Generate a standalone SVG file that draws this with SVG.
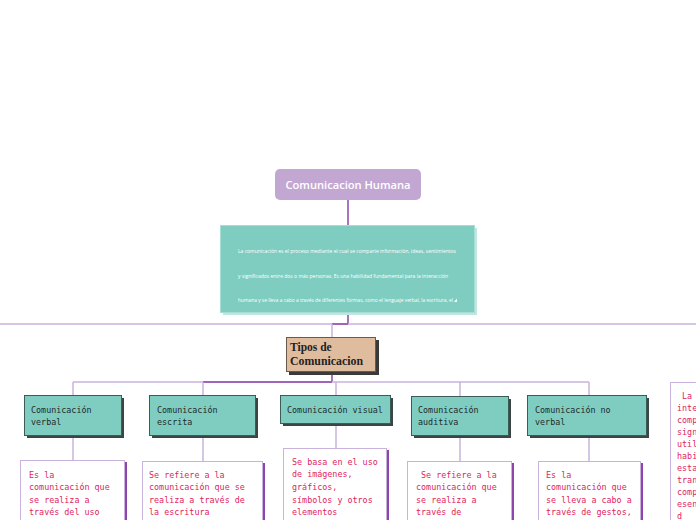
<svg xmlns="http://www.w3.org/2000/svg" width="696" height="520" viewBox="0 0 696 520">
<style>
.light{stroke:#c9b3dc;stroke-width:1.5;fill:none}
.dark{stroke:#8e44ad;stroke-width:1.5;fill:none}
.child{fill:#7fcdc1;stroke:#3d5c58;stroke-width:1}
.cshadow{fill:#3a4544}
.clabel{font-family:"DejaVu Sans Mono","Liberation Mono",monospace;font-size:8.4px;fill:#1f2a2a}
.desc{fill:#ffffff;stroke:#c9b3dc;stroke-width:1}
.dshadow{fill:#8e44ad}
.dtext{font-family:"DejaVu Sans Mono","Liberation Mono",monospace;font-size:8.4px;fill:#e0245e}
.small{font-family:"Open Sans","Noto Sans",sans-serif;font-size:4.6px;fill:#ffffff}
</style>
<rect width="696" height="520" fill="#ffffff"/>
<g id="connectors">
<line class="dark" x1="348" y1="200" x2="348" y2="226"/>
<line class="dark" x1="348" y1="313" x2="348" y2="324"/>
<line class="light" x1="0" y1="324" x2="696" y2="324"/>
<line class="dark" x1="332" y1="324" x2="348" y2="324"/>
<line class="light" x1="332" y1="324" x2="332" y2="337"/>
<line class="dark" x1="332" y1="372" x2="332" y2="382"/>
<line class="light" x1="73" y1="382" x2="589" y2="382"/>
<line class="dark" x1="203" y1="382" x2="332" y2="382"/>
<line class="light" x1="73" y1="382" x2="73" y2="395"/>
<line class="light" x1="203" y1="382" x2="203" y2="395"/>
<line class="light" x1="336" y1="382" x2="336" y2="395"/>
<line class="light" x1="460" y1="382" x2="460" y2="396"/>
<line class="light" x1="589" y1="382" x2="589" y2="395"/>
<line class="light" x1="73" y1="435" x2="73" y2="460"/>
<line class="light" x1="203" y1="436" x2="203" y2="461"/>
<line class="light" x1="336" y1="423" x2="336" y2="448"/>
<line class="light" x1="460" y1="435" x2="460" y2="461"/>
<line class="light" x1="589" y1="435" x2="589" y2="461"/>
</g>
<g id="root">
<rect x="275" y="169" width="146" height="31" rx="5" fill="#c3a7d3"/>
<text x="348" y="189" text-anchor="middle" font-family="'Open Sans','Noto Sans',sans-serif" font-size="11" font-weight="600" fill="#ffffff" textLength="125" lengthAdjust="spacingAndGlyphs">Comunicacion Humana</text>
</g>
<g id="definition">
<rect x="223" y="228" width="254" height="87" fill="#bfe6e0"/>
<rect x="220.5" y="225.5" width="254" height="87" fill="#7fcdc1" stroke="#a8ddd5" stroke-width="1"/>
<text class="small" x="238" y="253" textLength="218" lengthAdjust="spacingAndGlyphs">La comunicación es el proceso mediante el cual se comparte información, ideas, sentimientos</text>
<text class="small" x="238" y="278" textLength="210" lengthAdjust="spacingAndGlyphs">y significados entre dos o más personas. Es una habilidad fundamental para la interacción</text>
<text class="small" x="238" y="302" textLength="215" lengthAdjust="spacingAndGlyphs">humana y se lleva a cabo a través de diferentes formas, como el lenguaje verbal, la escritura, el</text>
<polygon points="454,302 457,298.5 457,302" fill="#ffffff"/>
</g>
<g id="tipos">
<rect x="289" y="340" width="90" height="35" fill="#3a3a3a"/>
<rect x="286.5" y="337.5" width="89" height="34" fill="#e0bc9f" stroke="#6b5a4c" stroke-width="1"/>
<text x="290" y="351" font-family="'Liberation Serif',serif" font-size="11.5" font-weight="bold" fill="#222222">Tipos de</text>
<text x="290" y="365" font-family="'Liberation Serif',serif" font-size="11.5" font-weight="bold" fill="#222222" textLength="73" lengthAdjust="spacingAndGlyphs">Comunicacion</text>
</g>
<g id="verbal">
<rect class="cshadow" x="27" y="398" width="97" height="40"/>
<rect class="child" x="24.5" y="395.5" width="97" height="40"/>
<text class="clabel" x="31" y="413">Comunicación</text>
<text class="clabel" x="31" y="425">verbal</text>
</g>
<g id="escrita">
<rect class="cshadow" x="152" y="398" width="106" height="40"/>
<rect class="child" x="149.5" y="395.5" width="106" height="40"/>
<text class="clabel" x="157" y="413">Comunicación</text>
<text class="clabel" x="157" y="425">escrita</text>
</g>
<g id="visual">
<rect class="cshadow" x="283" y="398" width="110" height="28"/>
<rect class="child" x="280.5" y="395.5" width="110" height="28"/>
<text class="clabel" x="287" y="413">Comunicación visual</text>
</g>
<g id="auditiva">
<rect class="cshadow" x="414" y="399" width="97" height="39"/>
<rect class="child" x="411.5" y="396.5" width="97" height="39"/>
<text class="clabel" x="418" y="413">Comunicación</text>
<text class="clabel" x="418" y="425">auditiva</text>
</g>
<g id="noverbal">
<rect class="cshadow" x="530" y="398" width="119" height="40"/>
<rect class="child" x="527.5" y="395.5" width="119" height="40"/>
<text class="clabel" x="535" y="413">Comunicación no</text>
<text class="clabel" x="535" y="425">verbal</text>
</g>
<g id="desc-verbal">
<rect class="dshadow" x="22" y="462" width="105" height="80"/>
<rect class="desc" x="20.5" y="460.5" width="104" height="80"/>
<text class="dtext" x="29" y="478">Es la</text>
<text class="dtext" x="29" y="490">comunicación que</text>
<text class="dtext" x="29" y="503">se realiza a</text>
<text class="dtext" x="29" y="515">través del uso</text>
</g>
<g id="desc-escrita">
<rect class="dshadow" x="144" y="463" width="121" height="80"/>
<rect class="desc" x="142.5" y="461.5" width="120" height="80"/>
<text class="dtext" x="149" y="478">Se refiere a la</text>
<text class="dtext" x="149" y="490">comunicación que se</text>
<text class="dtext" x="149" y="503">realiza a través de</text>
<text class="dtext" x="149" y="515">la escritura</text>
</g>
<g id="desc-visual">
<rect class="dshadow" x="285" y="450" width="104" height="90"/>
<rect class="desc" x="283.5" y="448.5" width="103" height="90"/>
<text class="dtext" x="292" y="465">Se basa en el uso</text>
<text class="dtext" x="292" y="477">de imágenes,</text>
<text class="dtext" x="292" y="490">gráficos,</text>
<text class="dtext" x="292" y="503">símbolos y otros</text>
<text class="dtext" x="292" y="515">elementos</text>
</g>
<g id="desc-auditiva">
<rect class="dshadow" x="409" y="463" width="105" height="80"/>
<rect class="desc" x="407.5" y="461.5" width="104" height="80"/>
<text class="dtext" x="416" y="478" xml:space="preserve"> Se refiere a la</text>
<text class="dtext" x="416" y="490">comunicación que</text>
<text class="dtext" x="416" y="503">se realiza a</text>
<text class="dtext" x="416" y="515">través de</text>
</g>
<g id="desc-noverbal">
<rect class="dshadow" x="540" y="463" width="103" height="80"/>
<rect class="desc" x="538.5" y="461.5" width="102" height="80"/>
<text class="dtext" x="546" y="478">Es la</text>
<text class="dtext" x="546" y="490">comunicación que</text>
<text class="dtext" x="546" y="503">se lleva a cabo a</text>
<text class="dtext" x="546" y="515">través de gestos,</text>
</g>
<g id="side-note">
<rect class="desc" x="670.5" y="382.5" width="40" height="150"/>
<text class="dtext" x="677" y="399" xml:space="preserve"> La</text>
<text class="dtext" x="677" y="411">inte</text>
<text class="dtext" x="677" y="423">comp</text>
<text class="dtext" x="677" y="435">sign</text>
<text class="dtext" x="677" y="447">util</text>
<text class="dtext" x="677" y="459">habi</text>
<text class="dtext" x="677" y="471">esta</text>
<text class="dtext" x="677" y="483">tran</text>
<text class="dtext" x="677" y="495">comp</text>
<text class="dtext" x="677" y="507">esen</text>
<text class="dtext" x="677" y="519">d</text>
</g>
</svg>
